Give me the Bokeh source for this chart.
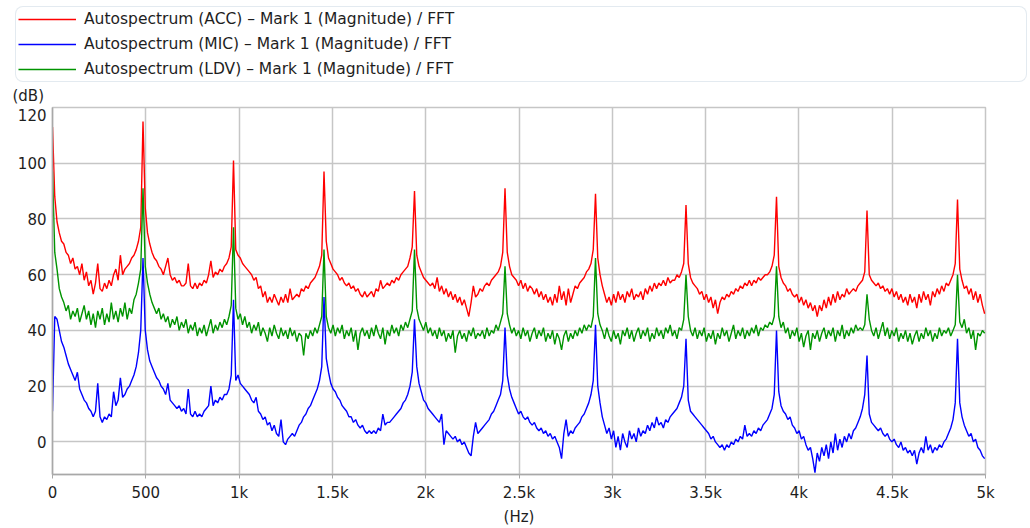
from bokeh.plotting import figure
from bokeh.layouts import column
from bokeh.models import Legend, LegendItem, FixedTicker, Label, Range1d, ColumnDataSource
from bokeh.embed import file_html
from bokeh.resources import INLINE

# FFT bin spacing (Hz) of the spectra
BIN_HZ = 12.125

# Autospectrum (ACC) in dB, one value per bin
ACC_DB = [
    113, 88, 79, 75, 72, 71, 68, 67, 64, 66, 62, 63, 60, 64, 58, 61, 56, 58, 53, 57, 64, 55, 54, 57, 55, 58, 56, 60, 62, 58, 67, 60, 62, 63, 64, 66, 67, 69, 72, 77,
    115, 84, 75, 71, 68, 66, 65, 63, 62, 60, 63, 66, 60, 58, 59, 57, 58, 56, 56, 57, 64, 56, 55, 57, 55, 57, 56, 58, 57, 60, 65, 59, 61, 60, 62, 61, 63, 64, 66, 70,
    101, 69, 67, 66, 64, 63, 62, 61, 60, 58, 59, 55, 56, 52, 54, 50, 52, 50, 53, 51, 49, 52, 50, 53, 50, 55, 51, 52, 53, 52, 55, 54, 56, 55, 57, 58, 59, 61, 63, 67,
    97, 72, 66, 64, 62, 61, 60, 58, 59, 57, 56, 57, 55, 56, 54, 55, 53, 52, 54, 52, 53, 54, 52, 55, 54, 58, 55, 56, 57, 56, 58, 57, 59, 58, 60, 61, 62, 63, 66, 70,
    90, 67, 63, 61, 59, 58, 57, 56, 57, 55, 59, 54, 56, 53, 55, 52, 54, 51, 53, 50, 52, 49, 51, 48, 45, 50, 56, 52, 53, 55, 54, 56, 57, 56, 58, 59, 60, 61, 63, 68,
    91, 68, 63, 60, 59, 58, 56, 58, 55, 57, 54, 56, 55, 53, 55, 52, 54, 51, 53, 50, 52, 49, 53, 50, 56, 51, 54, 49, 55, 50, 53, 56, 55, 57, 58, 59, 61, 62, 64, 69,
    89, 66, 60, 56, 53, 50, 52, 49, 53, 50, 54, 51, 53, 50, 54, 52, 55, 51, 53, 52, 54, 51, 55, 53, 56, 54, 57, 55, 57, 56, 58, 56, 59, 57, 58, 58, 60, 59, 61, 64,
    85, 64, 59, 57, 56, 55, 53, 54, 51, 53, 50, 52, 48, 51, 46, 50, 52, 51, 53, 52, 54, 53, 55, 54, 56, 55, 57, 56, 58, 56, 58, 57, 59, 58, 59, 60, 60, 61, 63, 67,
    88, 63, 59, 57, 56, 54, 55, 53, 52, 53, 50, 52, 49, 51, 48, 50, 47, 49, 45, 49, 47, 51, 48, 52, 49, 53, 50, 54, 51, 53, 52, 55, 53, 54, 55, 54, 56, 57, 58, 61,
    83, 60, 58, 57, 56, 57, 55, 56, 54, 55, 53, 55, 52, 54, 51, 53, 50, 52, 49, 53, 50, 52, 48, 53, 50, 54, 51, 53, 49, 54, 52, 55, 53, 56, 54, 57, 56, 58, 60, 64,
    87, 62, 58, 55, 56, 53, 55, 51, 54, 50, 53, 49, 46,
]

# Autospectrum (MIC) in dB
MIC_DB = [
    11, 45, 44, 40, 36, 34, 31, 28, 26, 24, 22, 25, 19, 17, 15, 14, 12, 11, 9, 11, 21, 9, 7, 9, 8, 10, 9, 18, 13, 15, 23, 16, 17, 19, 20, 22, 24, 27, 32, 40,
    66, 40, 33, 29, 27, 25, 23, 22, 20, 19, 17, 21, 15, 14, 13, 12, 13, 11, 12, 10, 19, 10, 9, 11, 9, 10, 9, 11, 12, 13, 20, 13, 15, 14, 16, 15, 17, 17, 19, 24,
    51, 22, 24, 21, 20, 19, 18, 17, 15, 14, 16, 11, 10, 8, 9, 6, 7, 4, 6, 3, 2, 8, 0, -1, 1, 2, 3, 2, 4, 6, 7, 9, 10, 12, 13, 15, 17, 19, 22, 27,
    52, 30, 25, 21, 19, 18, 16, 15, 13, 12, 11, 9, 9, 7, 8, 6, 5, 6, 4, 3, 4, 3, 4, 3, 5, 4, 10, 6, 7, 7, 8, 9, 10, 11, 12, 14, 15, 17, 20, 25,
    44, 27, 21, 18, 15, 14, 12, 11, 10, 9, 8, 7, 10, -1, 4, 3, 2, 1, 2, 0, 1, -1, 0, -2, -4, -5, 2, 7, 3, 4, 5, 6, 7, 8, 10, 11, 13, 15, 17, 22,
    41, 24, 19, 16, 14, 12, 10, 11, 9, 8, 9, 7, 6, 7, 5, 4, 5, 3, 4, 2, 3, 1, 2, 0, -2, -6, 3, 8, 2, 4, 3, 5, 6, 7, 9, 10, 12, 14, 17, 22,
    42, 20, 14, 9, 6, 3, 5, 1, 4, -2, 2, -3, 3, 0, -2, 4, 1, 3, 0, 5, 2, 4, 3, 6, 4, 7, 5, 9, 6, 7, 5, 8, 7, 9, 10, 11, 12, 14, 16, 20,
    37, 15, 11, 10, 9, 8, 7, 6, 5, 4, 3, 1, 2, 0, -1, -2, -1, -3, -1, -2, 0, -1, 1, 0, 2, 1, 6, 2, 3, 2, 4, 3, 5, 4, 6, 7, 8, 10, 12, 17,
    40, 18, 13, 11, 10, 8, 9, 6, 5, 3, 4, 1, 2, -1, -3, -2, -6, -11, -4, -7, -2, -5, -1, -6, 0, -4, 3, -3, 1, -2, 2, 0, 3, 1, 4, 5, 7, 9, 12, 17,
    31, 10, 7, 6, 5, 4, 5, 3, 2, 3, 1, 0, 1, -1, -2, 0, -3, -2, -4, -3, -5, -3, -8, -4, -2, -4, 2, -3, -1, -4, -2, -3, -1, -2, 0, 1, 3, 5, 8, 14,
    37, 14, 9, 6, 4, 2, 3, 0, 1, -2, -3, -5, -6,
]

# Autospectrum (LDV) in dB
LDV_DB = [
    97, 68, 62, 55, 52, 50, 47, 49, 44, 47, 45, 48, 43, 46, 49, 44, 47, 42, 46, 41, 47, 44, 48, 42, 46, 43, 50, 44, 47, 43, 48, 45, 50, 44, 48, 46, 51, 53, 57, 62,
    91, 63, 57, 53, 50, 48, 46, 48, 44, 46, 43, 45, 41, 44, 42, 45, 40, 43, 41, 44, 39, 42, 40, 43, 38, 41, 39, 42, 38, 41, 44, 39, 42, 40, 43, 41, 44, 42, 45, 49,
    77, 48, 44, 46, 42, 45, 41, 43, 39, 42, 40, 43, 38, 41, 39, 36, 41, 38, 42, 39, 37, 41, 38, 40, 37, 41, 38, 40, 36, 39, 38, 31, 39, 37, 40, 38, 41, 39, 42, 45,
    69, 45, 41, 39, 42, 38, 41, 39, 42, 37, 40, 38, 41, 36, 40, 33, 39, 41, 38, 40, 37, 41, 38, 42, 39, 37, 41, 35, 40, 38, 42, 39, 41, 38, 42, 40, 43, 41, 44, 47,
    69, 48, 44, 42, 40, 43, 39, 41, 38, 40, 37, 41, 38, 40, 36, 39, 37, 40, 32, 38, 40, 37, 39, 36, 40, 38, 41, 37, 39, 38, 40, 37, 41, 38, 40, 39, 42, 40, 43, 46,
    63, 46, 42, 39, 41, 38, 40, 37, 41, 38, 40, 36, 39, 41, 37, 40, 38, 41, 36, 39, 37, 40, 35, 39, 37, 33, 38, 40, 36, 39, 37, 40, 38, 41, 39, 42, 40, 42, 41, 45,
    66, 46, 42, 40, 37, 41, 38, 36, 40, 37, 39, 35, 40, 38, 41, 37, 40, 36, 39, 41, 37, 40, 38, 41, 36, 39, 37, 41, 38, 40, 37, 41, 39, 42, 38, 40, 37, 41, 40, 44,
    60, 45, 40, 38, 41, 37, 40, 38, 41, 36, 39, 37, 40, 35, 39, 37, 41, 38, 40, 36, 39, 42, 37, 40, 38, 41, 37, 40, 38, 41, 39, 42, 38, 41, 40, 42, 41, 43, 42, 45,
    63, 45, 41, 43, 39, 41, 37, 40, 38, 41, 36, 39, 34, 38, 40, 33, 39, 37, 40, 36, 39, 41, 37, 40, 38, 41, 36, 40, 38, 42, 37, 40, 38, 41, 39, 42, 40, 41, 40, 42,
    53, 44, 40, 38, 41, 37, 40, 43, 38, 41, 37, 40, 38, 41, 36, 39, 37, 40, 36, 39, 35, 38, 40, 36, 39, 37, 41, 38, 40, 36, 39, 37, 41, 38, 40, 39, 41, 38, 40, 42,
    60, 43, 41, 44, 39, 41, 37, 40, 33, 39, 38, 40, 39,
]

SERIES_LABELS = [
    "Autospectrum (ACC) \u2013 Mark 1 (Magnitude) / FFT",
    "Autospectrum (MIC) \u2013 Mark 1 (Magnitude) / FFT",
    "Autospectrum (LDV) \u2013 Mark 1 (Magnitude) / FFT",
]
SERIES_COLORS = ["#ff0000", "#0000ff", "#009400"]
SERIES_KEYS = ["acc", "mic", "ldv"]

X_TICKS = [0, 500, 1000, 1500, 2000, 2500, 3000, 3500, 4000, 4500, 5000]
X_TICK_LABELS = ["0", "500", "1k", "1.5k", "2k", "2.5k", "3k", "3.5k", "4k", "4.5k", "5k"]
Y_TICKS = [0, 20, 40, 60, 80, 100, 120]
Y_MAX = 120
Y_MIN = -11.7

freq = [i * BIN_HZ for i in range(len(ACC_DB))]
src = ColumnDataSource(dict(f=freq, acc=ACC_DB, mic=MIC_DB, ldv=LDV_DB))

FONT = "DejaVu Sans"
GRID = "#c6c6c6"
TEXT = "#1e1e1e"
LW = 1.4

# ---------------- header (legend + unit label) ----------------
HEAD_H = 104
head = figure(width=1030, height=HEAD_H, output_backend="svg", toolbar_location=None,
              x_range=Range1d(0, 1030), y_range=Range1d(HEAD_H, 0),
              x_axis_type=None, y_axis_type=None,
              min_border_left=0, min_border_right=0, min_border_top=0, min_border_bottom=0,
              outline_line_color=None, background_fill_color="white", border_fill_color="white")
head.xgrid.visible = False
head.ygrid.visible = False
# legend proxies: same data, hidden in the header frame
h_renderers = [head.line("f", k, source=src, line_color=c, line_width=LW, visible=False)
               for k, c in zip(SERIES_KEYS, SERIES_COLORS)]

legend = Legend(items=[LegendItem(label=lab, renderers=[r]) for lab, r in zip(SERIES_LABELS, h_renderers)],
                location=(15, HEAD_H - 82), margin=0, padding=2, spacing=5,
                label_height=20, glyph_height=20, glyph_width=58,
                label_standoff=8, label_width=940,
                label_text_font=FONT, label_text_font_size="15.5px",
                label_text_color=TEXT,
                border_line_color="#c8d5e2", border_line_width=1.5,
                background_fill_color="white", background_fill_alpha=1.0)
if "border_radius" in Legend.properties():
    legend.border_radius = 8
head.add_layout(legend)
head.add_layout(Label(x=12, y=95, text="(dB)", text_baseline="middle",
                      text_font=FONT, text_font_size="15px", text_color=TEXT))

# ---------------- main spectrum plot ----------------
p = figure(width=1030, height=528 - HEAD_H, output_backend="svg", toolbar_location=None,
           x_range=Range1d(0, 5000), y_range=Range1d(Y_MIN, Y_MAX),
           min_border_left=52, min_border_right=45, min_border_top=107 - HEAD_H, min_border_bottom=49,
           background_fill_color="white", border_fill_color="white")

for k, c in zip(SERIES_KEYS, SERIES_COLORS):
    p.line("f", k, source=src, line_color=c, line_width=LW)

# the top tick label sits just inside the frame, as in the original
y_label_pos = [t if t < Y_MAX else t - 2.6 for t in Y_TICKS]
p.xaxis.ticker = FixedTicker(ticks=X_TICKS)
p.xaxis.major_label_overrides = {t: l for t, l in zip(X_TICKS, X_TICK_LABELS)}
p.yaxis.ticker = FixedTicker(ticks=y_label_pos)
p.yaxis.major_label_overrides = {pos: str(t) for pos, t in zip(y_label_pos, Y_TICKS)}
p.xgrid.ticker = FixedTicker(ticks=X_TICKS)
p.ygrid.ticker = FixedTicker(ticks=Y_TICKS)
for g in (p.xgrid, p.ygrid):
    g.grid_line_color = GRID
    g.grid_line_width = 1.5
p.outline_line_color = GRID
p.outline_line_width = 1.5

for ax in (p.xaxis, p.yaxis):
    ax.axis_line_color = "#a8a8a8"
    ax.axis_line_width = 1.5
    ax.major_tick_line_color = "#a8a8a8"
    ax.minor_tick_line_color = None
    ax.major_label_text_font = FONT
    ax.major_label_text_font_size = "15px"
    ax.major_label_text_color = TEXT
p.xaxis.major_tick_in = 0
p.xaxis.major_tick_out = 4
p.xaxis.major_label_standoff = 5
p.yaxis.major_tick_in = 0
p.yaxis.major_tick_out = 0
p.yaxis.major_tick_line_color = None
p.yaxis.major_label_standoff = 6
p.xaxis.axis_label = "(Hz)"
p.xaxis.axis_label_text_font = FONT
p.xaxis.axis_label_text_font_size = "15px"
p.xaxis.axis_label_text_font_style = "normal"
p.xaxis.axis_label_text_color = TEXT
p.xaxis.axis_label_standoff = 3

# keep the header's frame independent of the main plot's frame
for fig in (head, p):
    if "frame_align" in fig.properties():
        fig.frame_align = False

layout = column(head, p, spacing=0)
open("out.html", "w").write(file_html(layout, INLINE))
